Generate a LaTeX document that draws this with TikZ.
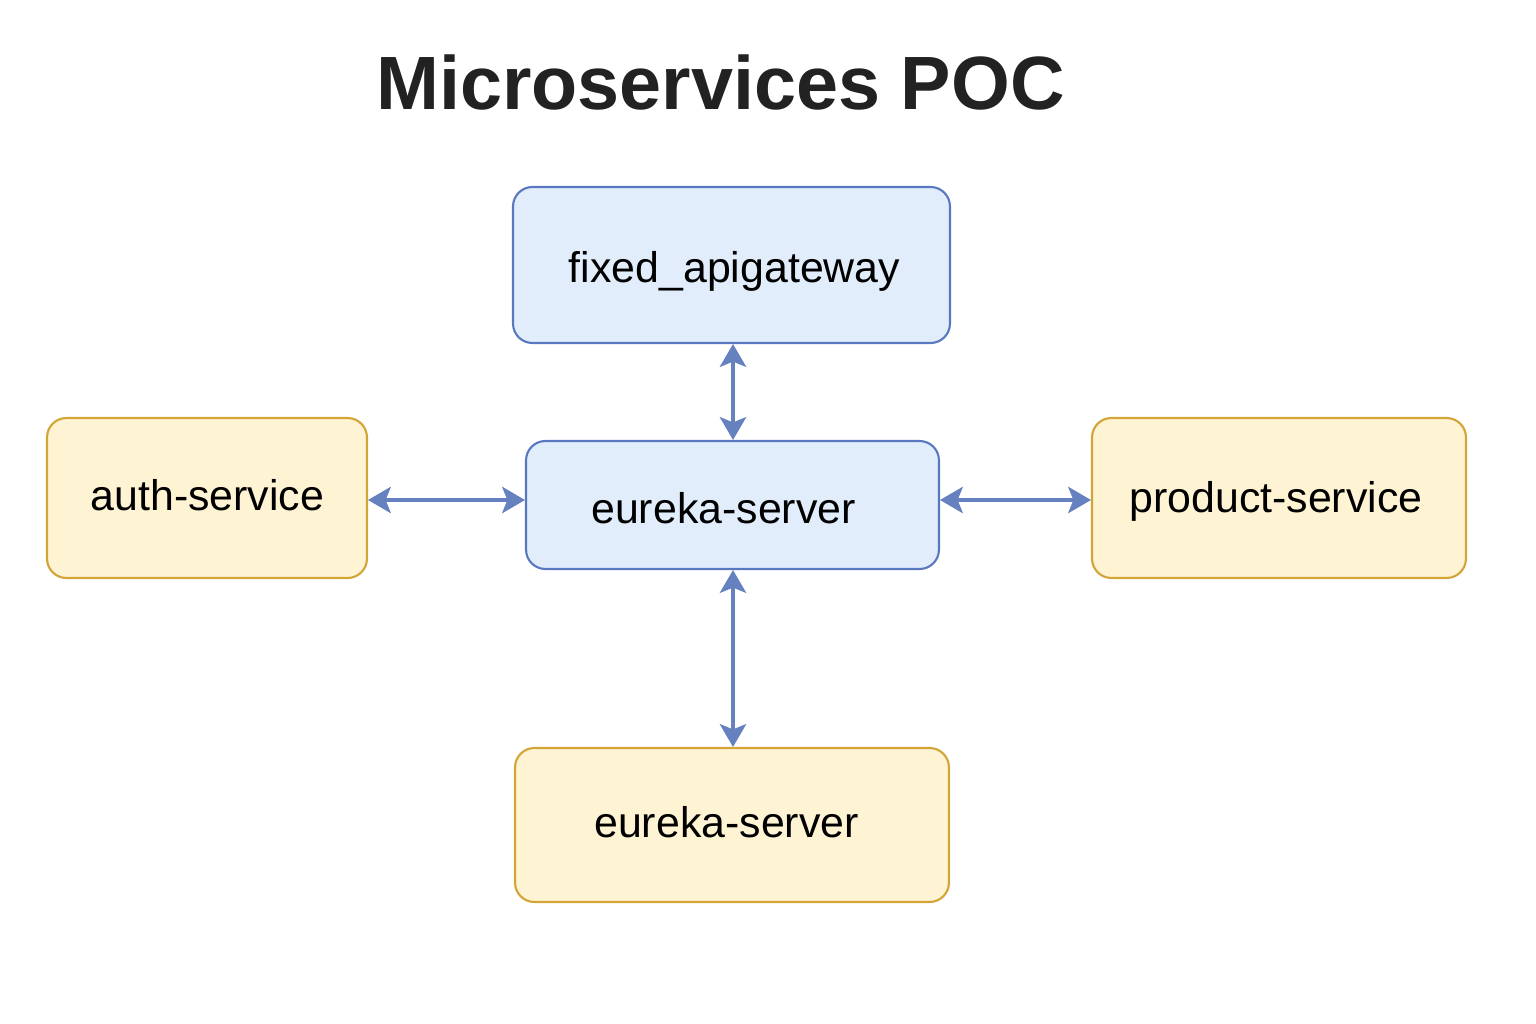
\documentclass[tikz,border=0pt]{standalone}
\usepackage{fontspec}
\setmainfont{Liberation Sans}
\usetikzlibrary{arrows.meta}
\definecolor{bfill}{HTML}{E2EDFC}
\definecolor{bdraw}{HTML}{5A78C0}
\definecolor{yfill}{HTML}{FEF4D3}
\definecolor{ydraw}{HTML}{D3A436}
\definecolor{arr}{HTML}{6681C0}
\definecolor{ttl}{HTML}{222222}
\begin{document}
\begin{tikzpicture}[x=0.02cm,y=-0.02cm,
  box/.style={rounded corners=11pt, line width=1.2pt, inner sep=0pt},
  bluebox/.style={box, fill=bfill, draw=bdraw},
  yelbox/.style={box, fill=yfill, draw=ydraw},
  lbl/.style={anchor=base, inner sep=0pt, font=\fontsize{24.4}{28}\selectfont, text=black},
  conn/.style={draw=arr, line width=2pt,
    {Stealth[length=13pt,width=15pt,inset=3pt]}-{Stealth[length=13pt,width=15pt,inset=3pt]}}]
\useasboundingbox (0,0) rectangle (1536,1024);
\node[anchor=base, inner sep=0pt, font=\fontsize{43}{50}\selectfont\bfseries, text=ttl] (title) at (720.5,110) {Microservices POC};
\node[bluebox, minimum width=8.74cm, minimum height=3.12cm] (gw) at (731.5,265) {};
\node[bluebox, minimum width=8.26cm, minimum height=2.56cm] (eu) at (732.5,505) {};
\node[yelbox, minimum width=6.4cm, minimum height=3.2cm] (auth) at (207,498) {};
\node[yelbox, minimum width=7.48cm, minimum height=3.2cm] (prod) at (1279,498) {};
\node[yelbox, minimum width=8.68cm, minimum height=3.08cm] (eu2) at (732,825) {};
\node[lbl] (gwt) at (734.5,282) {fixed\_apigateway};
\node[lbl] (eut) at (723.5,523) {eureka-server};
\node[lbl] (autht) at (207.5,510) {auth-service};
\node[lbl] (prodt) at (1276,512) {product-service};
\node[lbl] (eu2t) at (726.5,837) {eureka-server};
\coordinate (yl) at (0,500);
\coordinate (xl) at (733,0);
\draw[conn] (gw.south -| xl) -- (eu.north -| xl);
\draw[conn] (eu.south -| xl) -- (eu2.north -| xl);
\draw[conn] (auth.east |- yl) -- (eu.west |- yl);
\draw[conn] (eu.east |- yl) -- (prod.west |- yl);
\end{tikzpicture}
\end{document}
